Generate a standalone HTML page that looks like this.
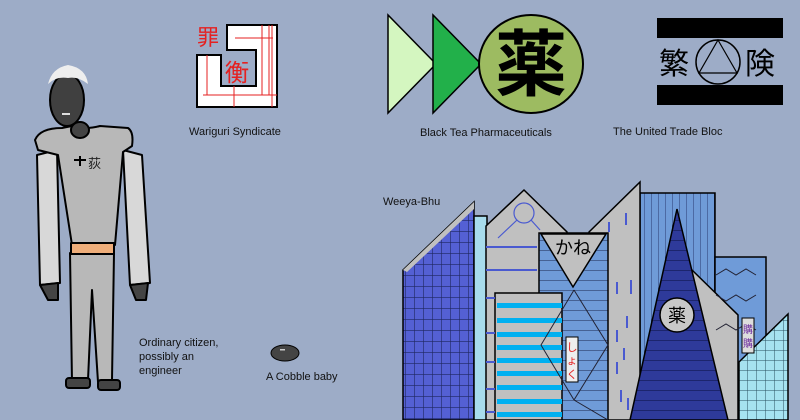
<!DOCTYPE html>
<html><head><meta charset="utf-8"><style>
body{margin:0;background:#9dacc7;}
svg{display:block}
text{font-family:"Liberation Sans","Noto Sans CJK JP",sans-serif}
</style></head><body>
<svg width="800" height="420" viewBox="0 0 800 420" xmlns="http://www.w3.org/2000/svg">
<rect width="800" height="420" fill="#9dacc7"/>
<defs>
<pattern id="grid1" width="9" height="11" patternUnits="userSpaceOnUse"><rect width="9" height="11" fill="#5460d4"/><path d="M0 0H9M0 0V11" stroke="#1e2660" stroke-width="1.2"/></pattern>
<pattern id="grid2" width="9" height="10" patternUnits="userSpaceOnUse"><rect width="9" height="10" fill="#a6e2f0"/><path d="M0 0H9M0 0V10" stroke="#2a5060" stroke-width="1"/></pattern>
<pattern id="hl" width="10" height="10" patternUnits="userSpaceOnUse"><rect width="10" height="10" fill="#6f9bd8"/><path d="M0 0H10" stroke="#1e2a50" stroke-width="1"/></pattern>
<pattern id="vl" width="7" height="10" patternUnits="userSpaceOnUse"><rect width="7" height="10" fill="#6f9bd8"/><path d="M0 0V10" stroke="#2a3a70" stroke-width="1"/></pattern>
<pattern id="sp" width="10" height="10" patternUnits="userSpaceOnUse"><rect width="10" height="10" fill="#2e3a9a"/><path d="M0 0H10" stroke="#0a1040" stroke-width="1"/></pattern>
</defs>

<!-- Wariguri -->
<polygon points="227,25 277,25 277,107 197,107 197,55 221,55 221,86 256,86 256,50 227,50" fill="#fff" stroke="#000" stroke-width="2"/>
<g stroke="#e52020" stroke-width="1">
<path d="M235 38H273M262 25V95M269 25V95M272 25V107M207 55V95M203 95H277M234 86V107"/>
</g>
<text x="197" y="45" font-size="22" fill="#e52020">罪</text>
<text x="225" y="81" font-size="24" fill="#e52020">衡</text>
<text x="189" y="135" font-size="11" fill="#111">Wariguri Syndicate</text>

<!-- Black Tea -->
<polygon points="388,15 388,113 436,64" fill="#d4f6c0" stroke="#000" stroke-width="1.5"/>
<polygon points="433,15 433,113 481,64" fill="#22b04a" stroke="#000" stroke-width="1.5"/>
<ellipse cx="531" cy="64" rx="52" ry="49" fill="#9dbb61" stroke="#000" stroke-width="2"/>
<text x="531" y="90" font-size="72" text-anchor="middle" font-weight="bold" fill="#000">薬</text>
<text x="420" y="136" font-size="11" fill="#111">Black Tea Pharmaceuticals</text>

<!-- United Trade Bloc -->
<rect x="657" y="18" width="126" height="20" fill="#000"/>
<rect x="657" y="85" width="126" height="20" fill="#000"/>
<circle cx="718" cy="62" r="22" fill="none" stroke="#000" stroke-width="1.5"/>
<polygon points="718,40 737,73 699,73" fill="none" stroke="#000" stroke-width="1.2"/>
<text x="659" y="74" font-size="30" fill="#000">繁</text>
<text x="745" y="74" font-size="30" fill="#000">険</text>
<text x="613" y="135" font-size="11" fill="#111">The United Trade Bloc</text>

<!-- Person -->
<g stroke="#000" stroke-width="2" stroke-linejoin="round">
<path d="M37 155 L57 150 L60 283 L40 285 Z" fill="#d8d8d8"/>
<path d="M123 150 L142 155 L150 283 L130 285 Z" fill="#d8d8d8"/>
<path d="M35 140 Q40 128 62 128 L72 126 Q85 130 100 126 L128 128 Q134 132 132 146 L123 152 L115 245 L72 245 L58 155 L38 150 Z" fill="#b8b8b8"/>
<path d="M70 253 L114 253 L112 380 L98 382 L92 290 L88 380 L72 382 Z" fill="#b8b8b8"/>
<rect x="71" y="243" width="43" height="11" fill="#efae7a"/>
<path d="M40 285 L58 283 L58 300 L48 300 Z" fill="#444"/>
<path d="M130 285 L148 283 L146 300 L136 300 Z" fill="#444"/>
<rect x="66" y="378" width="24" height="10" rx="3" fill="#444"/>
<rect x="98" y="380" width="22" height="10" rx="3" fill="#444"/>
<ellipse cx="80" cy="130" rx="9" ry="8" fill="#444"/>
<ellipse cx="67" cy="100" rx="17" ry="26" fill="#404040"/>
</g>
<path d="M48 84 Q52 68 68 65 Q86 68 88 84 Q78 76 68 78 Q56 76 48 84Z" fill="#eee"/>
<rect x="62" y="113" width="8" height="2" fill="#ddd"/>
<text x="88" y="168" font-size="13" fill="#222">荻</text>
<path d="M74 160H86M80 156V166" stroke="#000" stroke-width="2"/>
<text x="139" y="346" font-size="11" fill="#111">Ordinary citizen,</text>
<text x="139" y="360" font-size="11" fill="#111">possibly an</text>
<text x="139" y="374" font-size="11" fill="#111">engineer</text>

<!-- Cobble baby -->
<ellipse cx="285" cy="353" rx="14" ry="8" fill="#444" stroke="#000"/>
<rect x="280" y="349" width="5" height="1.5" fill="#ccc"/>
<text x="266" y="380" font-size="11" fill="#111">A Cobble baby</text>

<!-- City -->
<text x="383" y="205" font-size="11" fill="#111">Weeya-Bhu</text>
<g stroke="#000" stroke-width="1.5">
<rect x="640" y="193" width="75" height="227" fill="url(#vl)"/>
<rect x="715" y="257" width="51" height="163" fill="#6f9bd8"/>
<polygon points="589,232 640,182 640,420 589,420" fill="#c0c0c0"/>
<polygon points="692,270 738,315 738,420 692,420" fill="#c0c0c0"/>
<polygon points="403,270 474,202 474,420 403,420" fill="url(#grid1)"/>
<rect x="474" y="216" width="13" height="204" fill="#a8dcec"/>
<polygon points="486,226 524,190 567,232 567,420 486,420" fill="#c0c0c0"/>
<rect x="539" y="233" width="69" height="187" fill="url(#hl)"/>
<rect x="495" y="293" width="67" height="127" fill="#c0c0c0"/>
<polygon points="677,209 728,420 630,420" fill="url(#sp)"/>
<polygon points="739,362 788,314 788,420 739,420" fill="url(#grid2)"/>
</g>
<polygon points="403,270 474,202 474,209 407,272" fill="#c0c0c0"/>
<path d="M716 275l10-6 10 6 10-6 10 6M716 295l10 6 10-6 10 6 10-6M716 330l10-6 10 6 10-6 10 6" stroke="#223" fill="none"/>
<g fill="#00b0f0"><rect x="497" y="303" width="65" height="5"/><rect x="497" y="318" width="65" height="5"/><rect x="497" y="332" width="65" height="5"/><rect x="497" y="345" width="65" height="5"/><rect x="497" y="358" width="65" height="5"/><rect x="497" y="371" width="65" height="5"/><rect x="497" y="385" width="65" height="5"/><rect x="497" y="399" width="65" height="5"/><rect x="497" y="412" width="65" height="5"/></g>
<g stroke="#4a5ad0" stroke-width="2"><path d="M486 247H537M486 270H537M486 298H495M486 333H495M486 362H495M486 389H495M486 412H495"/><path d="M609 222v10M626 213v12M617 282v12M631 280v14M617 330v12M627 316v12M617 362v12M624 348v12M621 390v12M628 398v12"/></g>
<circle cx="524" cy="213" r="10" fill="none" stroke="#4a5ad0" stroke-width="1.2"/>
<path d="M517 220L498 238M531 220L540 230" stroke="#4a5ad0" stroke-width="1.2"/>
<path d="M574 290L608 345L574 400L608 420M574 290L541 345L574 400" stroke="#223" fill="none"/>
<polygon points="541,234 606,234 573,287" fill="#c0c0c0" stroke="#000" stroke-width="1.5"/>
<text x="573" y="254" font-size="18" text-anchor="middle" fill="#000">かね</text>
<rect x="566" y="337" width="12" height="45" fill="#eee" stroke="#000"/>
<text x="572" y="351" font-size="11" text-anchor="middle" fill="#e52020">し</text>
<text x="572" y="364" font-size="11" text-anchor="middle" fill="#e52020">ょ</text>
<text x="572" y="378" font-size="11" text-anchor="middle" fill="#e52020">く</text>
<circle cx="677" cy="315" r="17" fill="#c8c8c8" stroke="#000" stroke-width="1.5"/>
<text x="677" y="322" font-size="18" text-anchor="middle" fill="#000">薬</text>
<rect x="742" y="318" width="12" height="35" fill="#ddd" stroke="#000"/>
<text x="748" y="333" font-size="10" text-anchor="middle" fill="#7030a0">購</text>
<text x="748" y="347" font-size="10" text-anchor="middle" fill="#7030a0">購</text>
</svg>
</body></html>
